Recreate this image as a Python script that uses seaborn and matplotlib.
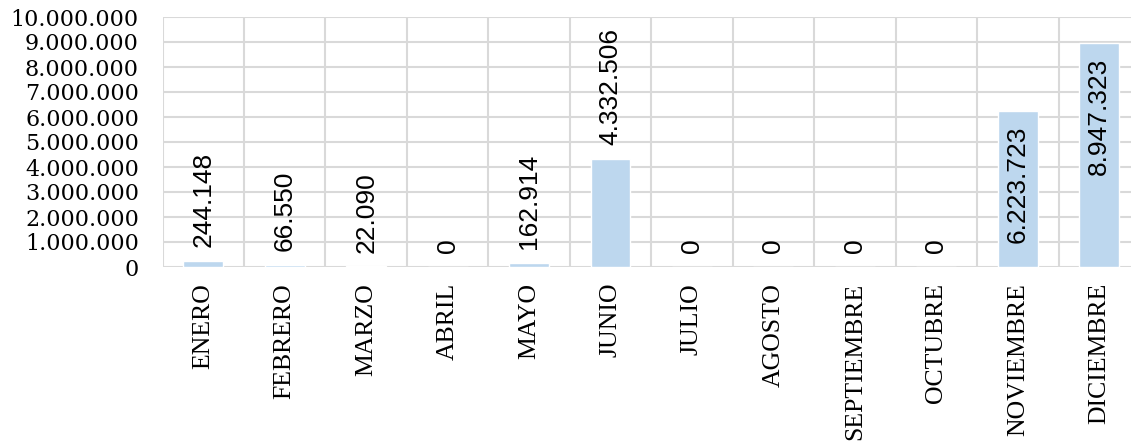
import matplotlib
matplotlib.use("Agg")
import matplotlib.pyplot as plt
import seaborn as sns
import pandas as pd
from matplotlib.ticker import FuncFormatter, MultipleLocator

months = ["ENERO", "FEBRERO", "MARZO", "ABRIL", "MAYO", "JUNIO", "JULIO",
          "AGOSTO", "SEPTIEMBRE", "OCTUBRE", "NOVIEMBRE", "DICIEMBRE"]
values = [244148, 66550, 22090, 0, 162914, 4332506, 0, 0, 0, 0, 6223723, 8947323]

def fmt(v):
    return f"{int(v):,}".replace(",", ".")

sns.set_theme(style="white")
fig = plt.figure(figsize=(11.31, 4.47), dpi=100)
ax = fig.add_axes([162.5 / 1131, (447 - 267) / 447, (1140 - 162.5) / 1131, 250 / 447])

df = pd.DataFrame({"mes": months, "valor": values})
sns.barplot(data=df, x="mes", y="valor", color="#BDD7EE", saturation=1,
            width=0.49, ax=ax, zorder=3)

ax.set_ylim(0, 10_000_000)
ax.set_xlim(-0.5, len(months) - 0.5)
ax.yaxis.set_major_locator(MultipleLocator(1_000_000))
ax.yaxis.set_major_formatter(FuncFormatter(lambda v, p: fmt(v)))
ax.set_xlabel("")
ax.set_ylabel("")

# grid: horizontal at ticks, vertical at category boundaries
for y in range(0, 10_000_001, 1_000_000):
    ax.axhline(y, color="#D9D9D9", lw=1.5, zorder=1)
for i in range(len(months) + 1):
    ax.axvline(i - 0.5, color="#D9D9D9", lw=1.5, zorder=1)
for s in ax.spines.values():
    s.set_visible(False)

ax.tick_params(axis="y", length=0, pad=17)
ax.tick_params(axis="x", length=0, pad=11.5)
for lbl in ax.get_yticklabels():
    lbl.set_fontfamily("DejaVu Serif")
    lbl.set_fontsize(16)
    lbl.set_color("#000000")
ax.set_xticks(range(len(months)))
ax.set_xticklabels(months, rotation=90, fontfamily="Liberation Serif",
                   fontsize=18.5, color="#000000")

for i, v in enumerate(values):
    if v > 5_000_000:
        ax.annotate(fmt(v), (i, v), xytext=(0, -10.5), textcoords="offset points",
                    rotation=90, ha="center", va="top", fontsize=19,
                    fontfamily="Liberation Sans", color="#000000", zorder=4)
    else:
        ax.annotate(fmt(v), (i, v), xytext=(0, 10), textcoords="offset points",
                    rotation=90, ha="center", va="bottom", fontsize=19,
                    fontfamily="Liberation Sans", color="#000000", zorder=4)

fig.savefig("out.png", dpi=100)
